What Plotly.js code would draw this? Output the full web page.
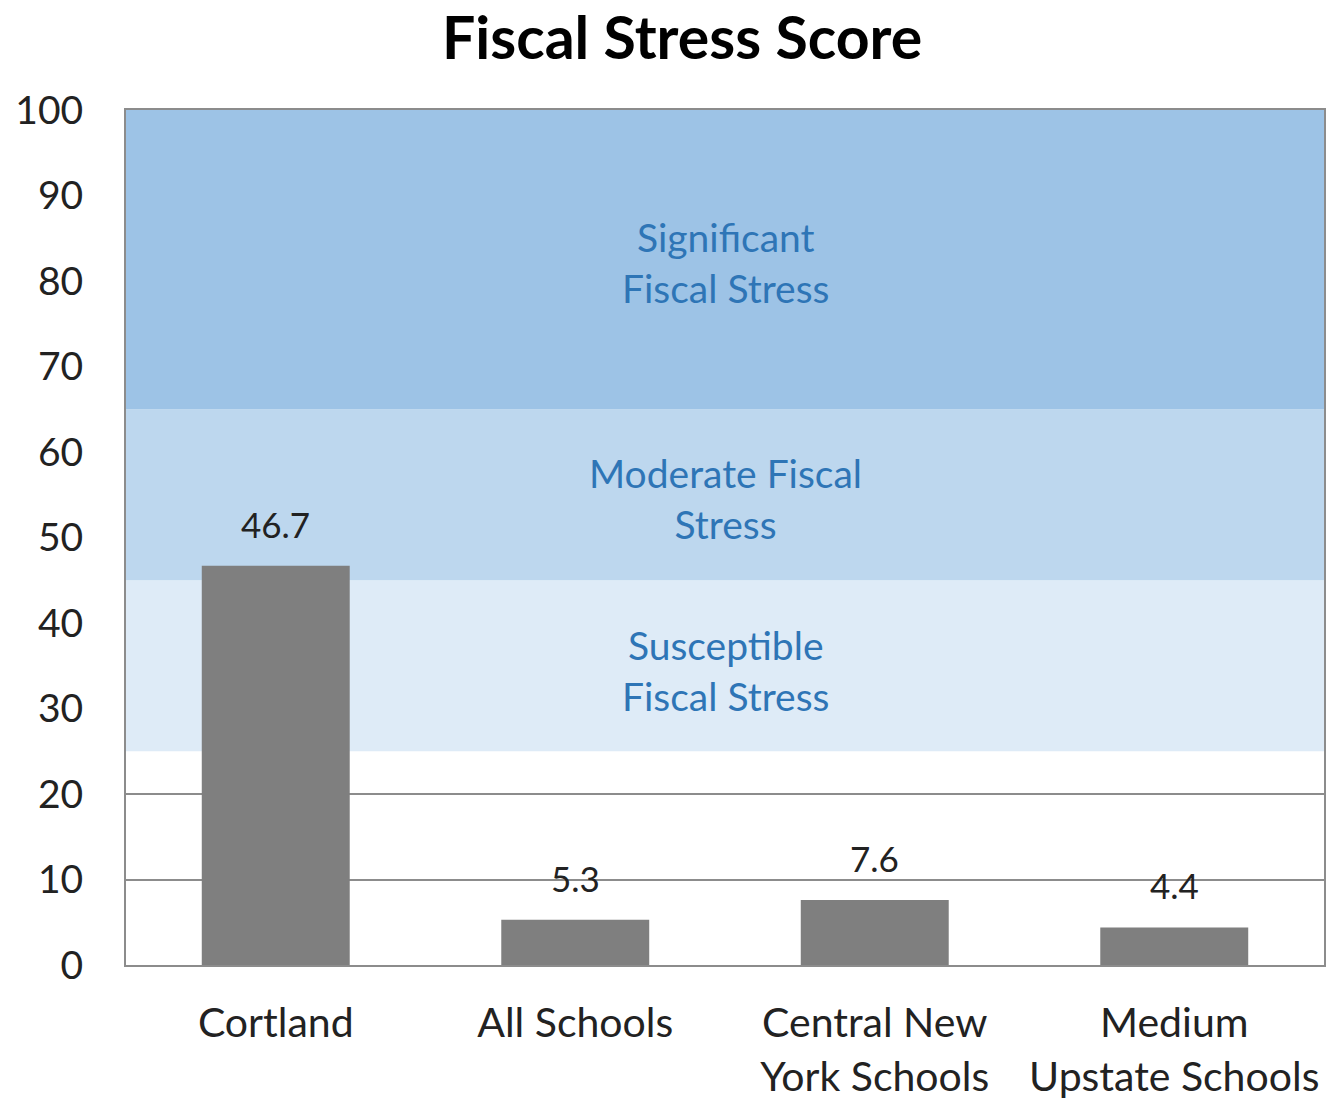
<!DOCTYPE html>
<html>
<head>
<meta charset="utf-8">
<script src="https://cdn.plot.ly/plotly-3.0.1.min.js"></script>
<style>html,body{margin:0;padding:0;background:#fff;}#chart{width:1327px;height:1101px;}</style>
</head>
<body>
<div id="chart"></div>
<script>
const categories = ["Cortland", "All Schools", "Central New<br>York Schools", "Medium<br>Upstate Schools"];
const scores = [46.7, 5.3, 7.6, 4.4];
const bandNames = ["Susceptible<br>Fiscal Stress", "Moderate Fiscal<br>Stress", "Significant<br>Fiscal Stress"];
const bandLow = [25, 45, 65];
const bandHigh = [45, 65, 100];
const bandColors = ["#DEEBF7", "#BDD7EE", "#9DC3E6"];
const yTicks = [0, 10, 20, 30, 40, 50, 60, 70, 80, 90, 100];
const visibleGrid = [10, 20];

const FONT = "Lato, 'Open Sans', sans-serif";

const shapes = bandLow.map((lo, i) => ({
  type: "rect", xref: "paper", yref: "y", x0: 0, x1: 1, y0: lo, y1: bandHigh[i],
  fillcolor: bandColors[i], line: {width: 0}, layer: "below"
}));

const labelY = [34.5, 54.6, 82.2];
const annotations = bandNames.map((name, i) => ({
  xref: "paper", yref: "y", x: 0.5, y: labelY[i],
  text: name, showarrow: false, font: {family: FONT, size: 39, color: "#2E75B6"},
  align: "center"
}));

scores.forEach((v, i) => {
  annotations.push({
    x: categories[i], y: v, xref: "x", yref: "y", text: v.toFixed(1), showarrow: false,
    yanchor: "bottom", yshift: 19, font: {family: FONT, size: 35, color: "#222"}
  });
});

const trace = {
  type: "bar", x: categories, y: scores,
  marker: {color: "#7F7F7F", line: {width: 0}},
  hoverinfo: "skip"
};
const gridHolder = {
  type: "scatter", mode: "none", x: categories, y: scores, yaxis: "y2", hoverinfo: "skip"
};

const layout = {
  width: 1327, height: 1101,
  margin: {l: 126, r: 3, t: 110, b: 136},
  paper_bgcolor: "#fff", plot_bgcolor: "#fff",
  title: {text: "<b>Fiscal Stress Score</b>", x: 0.514, xanchor: "center", y: 0.9655, yanchor: "middle",
          font: {family: FONT, size: 59, color: "#000"}},
  showlegend: false,
  bargap: 0.506,
  xaxis: {
    type: "category", range: [-0.5, 3.5], showgrid: false, showline: true, linecolor: "#8C8C8C", linewidth: 2,
    mirror: true, ticks: "", tickfont: {family: FONT, size: 41, color: "#222"}, ticklabelstandoff: 21
  },
  yaxis: {
    range: [0, 100], tickvals: yTicks, showgrid: false,
    showline: true, linecolor: "#8C8C8C", linewidth: 2, mirror: true, zeroline: false, ticks: "",
    tickfont: {family: FONT, size: 39, color: "#222"}, ticklabelstandoff: 33
  },
  yaxis2: {
    overlaying: "y", range: [0, 100], tickvals: visibleGrid, showgrid: true, gridcolor: "#8C8C8C", gridwidth: 2,
    showticklabels: false, showline: false, zeroline: false, ticks: ""
  },
  shapes: shapes,
  annotations: annotations
};

Plotly.newPlot("chart", [trace, gridHolder], layout, {displayModeBar: false, staticPlot: true});
</script>
</body>
</html>
